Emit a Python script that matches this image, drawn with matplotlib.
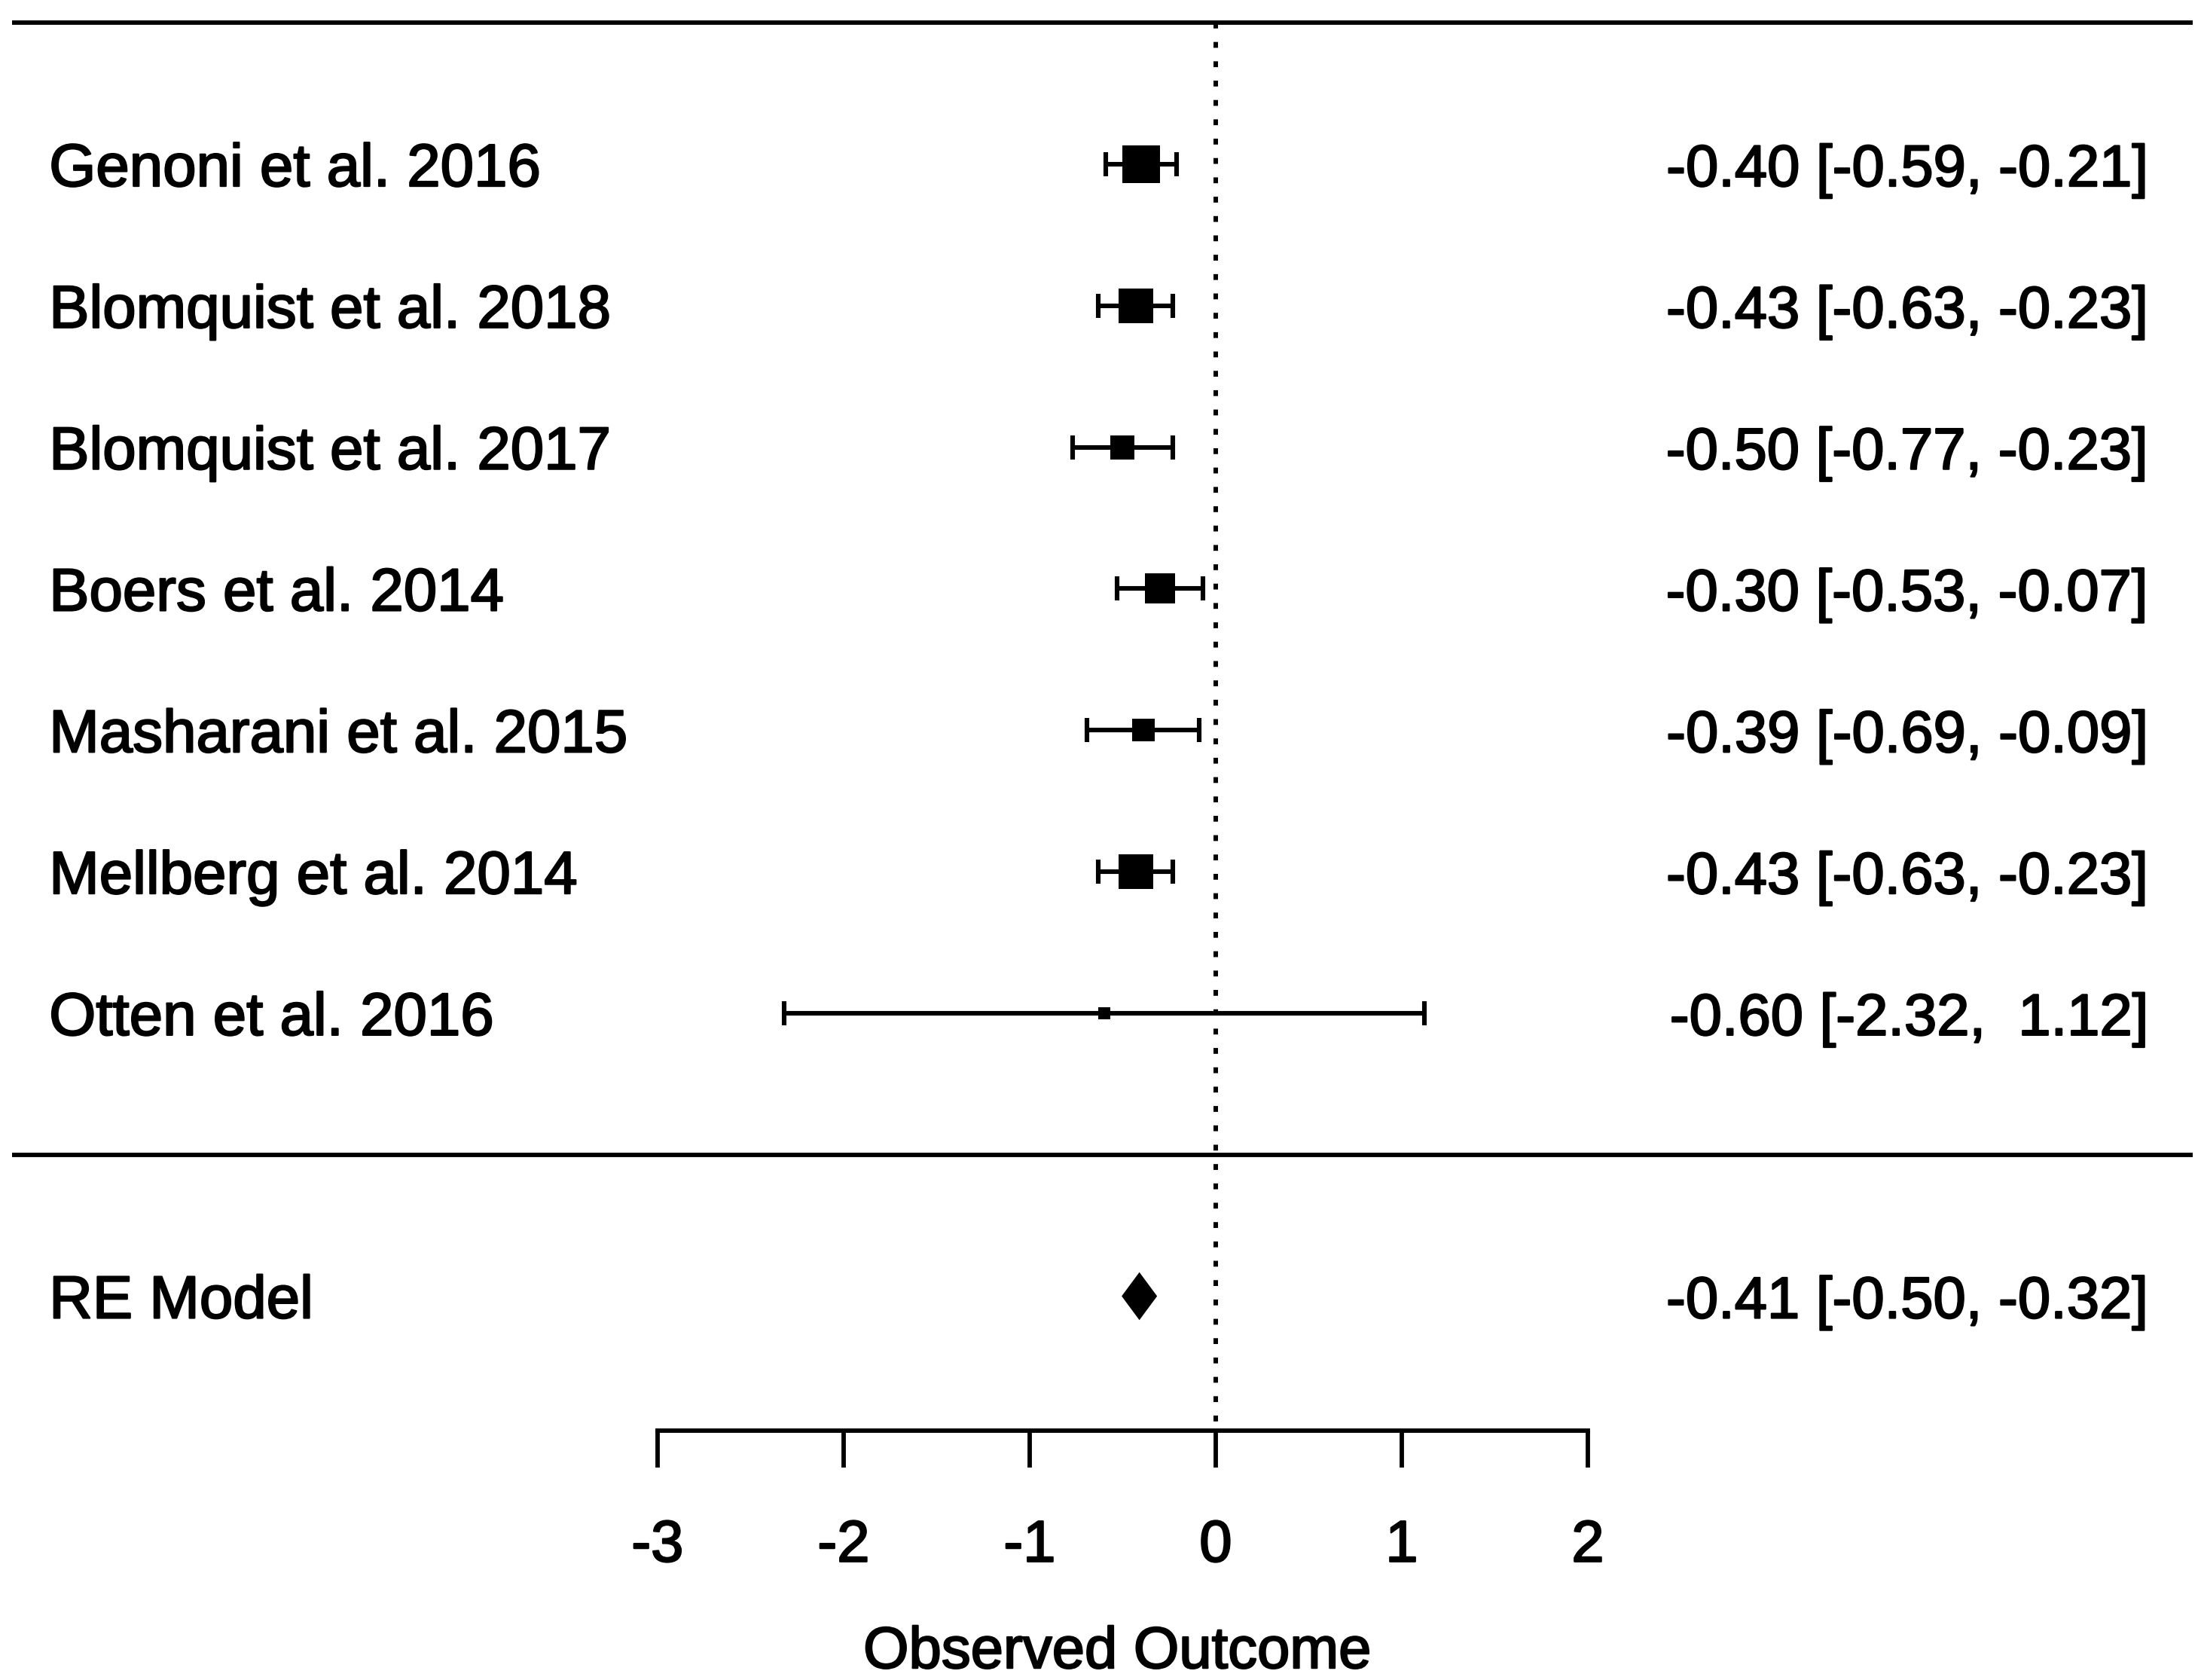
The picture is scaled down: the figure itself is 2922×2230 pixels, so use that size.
import matplotlib
matplotlib.use("Agg")
import matplotlib.pyplot as plt
import matplotlib.transforms as mtransforms
import matplotlib.patheffects as pe
from matplotlib.patches import Polygon
import numpy as np

plt.rcParams['font.family'] = ['Liberation Sans', 'DejaVu Sans']

# study data
studies = ["Genoni et al. 2016", "Blomquist et al. 2018", "Blomquist et al. 2017",
           "Boers et al. 2014", "Masharani et al. 2015", "Mellberg et al. 2014",
           "Otten et al. 2016"]
estimates = [-0.40, -0.43, -0.50, -0.30, -0.39, -0.43, -0.60]
lower = [-0.59, -0.63, -0.77, -0.53, -0.69, -0.63, -2.32]
upper = [-0.21, -0.23, -0.23, -0.07, -0.09, -0.23, 1.12]

summary_label = "RE Model"
summary_est = -0.41
summary_lb = -0.50
summary_ub = -0.32

xticks = [-3, -2, -1, 0, 1, 2]

k = len(studies)
rows = np.arange(k, 0, -1)

est = np.array(estimates)
lb = np.array(lower)
ub = np.array(upper)

# square size from inverse variance weights (metafor style, 0.5 .. 1.5)
se = (ub - lb) / (2 * 1.96)
w = 1 / se**2
psize = (w - w.min()) / (w.max() - w.min()) + 0.5

fig = plt.figure(figsize=(29.22, 22.30), dpi=100)
ax = fig.add_axes([0, 0, 1, 1])
ax.set_xlim(-6.534, 5.296)
ax.set_ylim(-3.713, 8.161)

lw = 4.2
fs = 56
bold = [pe.withStroke(linewidth=1.6, foreground='black')]

# horizontal lines
ax.hlines([k + 1, 0], -6.47, 5.25, color='black', lw=lw)

# reference line at 0
ax.plot([0, 0], [k + 1, -1.951], color='black', lw=4.3,
        dashes=(1.3, 3.0), dash_capstyle='butt')

# confidence intervals
ci_lw = 4.4
ax.hlines(rows, lb, ub, color='black', lw=ci_lw)
cap = 0.085
ax.vlines(lb, rows - cap, rows + cap, color='black', lw=ci_lw)
ax.vlines(ub, rows - cap, rows + cap, color='black', lw=ci_lw)

# squares
for r, e, p in zip(rows, est, psize):
    ax.plot(e, r, marker='s', color='black', markersize=p * 33.3 * 0.72,
            markeredgewidth=0, linestyle='none')

# summary diamond
h = 0.16
diamond = Polygon([[summary_lb, -1], [summary_est, -1 + h],
                   [summary_ub, -1], [summary_est, -1 - h]],
                  closed=True, facecolor='black', edgecolor='black', lw=1.5)
ax.add_patch(diamond)

# text
base = ax.transData + mtransforms.ScaledTranslation(0, -0.29, fig.dpi_scale_trans)
for r, name, e, l, u in zip(rows, studies, est, lb, ub):
    ax.text(-6.27, r, name, fontsize=57.5, ha='left', va='baseline',
            transform=base, path_effects=bold)
    ax.text(5.012, r, f"{e:5.2f} [{l:5.2f}, {u:5.2f}]", fontsize=fs,
            ha='right', va='baseline', transform=base, path_effects=bold)
ax.text(-6.27, -1, summary_label, fontsize=57.5, ha='left', va='baseline',
        transform=base, path_effects=bold)
ax.text(5.012, -1, f"{summary_est:5.2f} [{summary_lb:5.2f}, {summary_ub:5.2f}]",
        fontsize=fs, ha='right', va='baseline', transform=base, path_effects=bold)

# x axis
for s in ['top', 'left', 'right']:
    ax.spines[s].set_visible(False)
ax.spines['bottom'].set_position(('data', -1.951))
ax.spines['bottom'].set_bounds(-3, 2)
ax.spines['bottom'].set_linewidth(lw)
ax.set_xticks(xticks)
ax.set_xticklabels([str(t) for t in xticks])
ax.set_yticks([])
ax.tick_params(axis='x', direction='out', length=35, width=lw, labelsize=fs, pad=49)
for t in ax.get_xticklabels():
    t.set_path_effects(bold)
ax.set_xlabel("Observed Outcome", fontsize=fs, path_effects=bold)
ax.xaxis.set_label_coords(-0.53, -3.325, transform=ax.transData)

fig.savefig("out.png", dpi=100, facecolor='white')
